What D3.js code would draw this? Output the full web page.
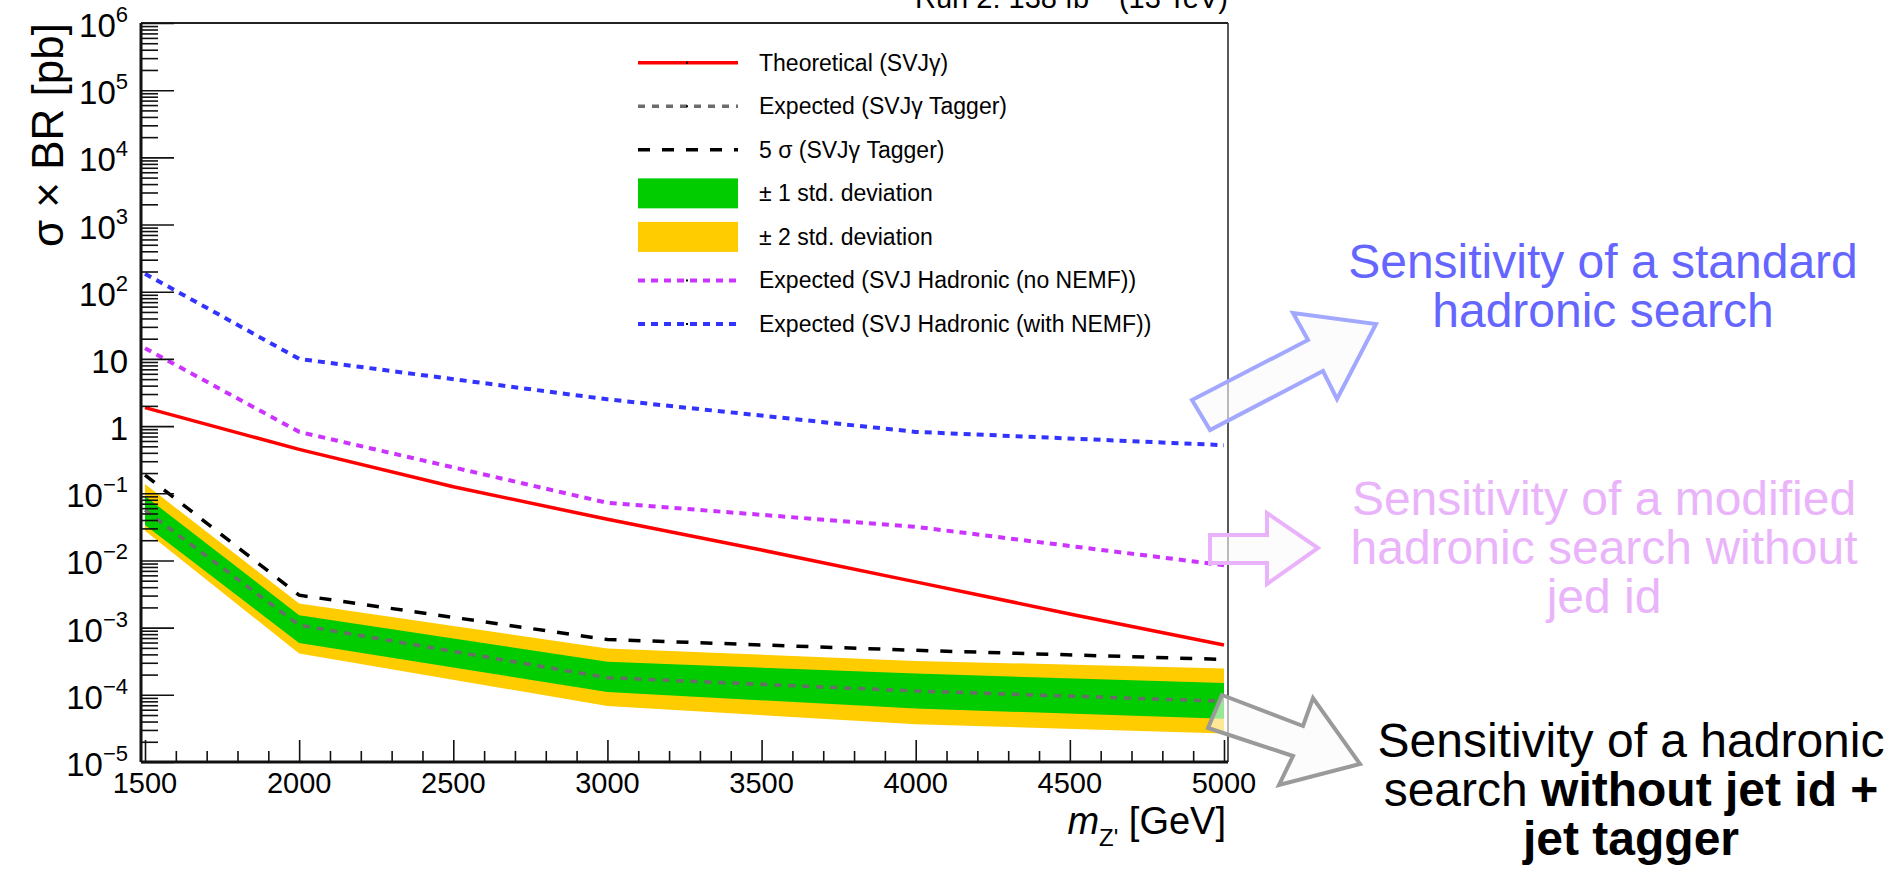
<!DOCTYPE html>
<html>
<head>
<meta charset="utf-8">
<script src="https://cdn.jsdelivr.net/npm/d3@7"></script>
<style>
  html, body { margin: 0; padding: 0; background: #fff; }
  svg { display: block; font-family: "Liberation Sans", Arial, sans-serif; }
  .leg { font-family: "Liberation Sans Narrow", "Liberation Sans", Arial, sans-serif; font-size: 23px; }
</style>
</head>
<body>
<div id="chart"></div>
<script>
// masses where the limits were computed (GeV)
const masses = [1500, 2000, 3000, 4000, 5000]
const theoryMasses = [1500, 2000, 2500, 3000, 3500, 4000, 4500, 5000]

// cross sections in pb
const theory = [1.88, 0.45, 0.125, 0.041, 0.0143, 0.0048, 0.0016, 0.00055]
const expected = [0.056, 0.00109, 0.00018, 0.000114, 0.00008]
const fiveSigma = [0.187, 0.00304, 0.000665, 0.00046, 0.000336]
const oneSigmaUp = [0.091, 0.00153, 0.00031, 0.000207, 0.00015]
const oneSigmaDown = [0.0336, 0.000593, 0.00011, 0.0000625, 0.000044]
const twoSigmaUp = [0.137, 0.00229, 0.00049, 0.00032, 0.000247]
const twoSigmaDown = [0.0277, 0.000412, 0.000068, 0.0000365, 0.0000265]
const hadNoNemf = [14.4, 0.82, 0.072, 0.0317, 0.0085]
const hadNemf = [185, 10, 2.5, 0.82, 0.52]

const xTicks = [1500, 2000, 2500, 3000, 3500, 4000, 4500, 5000]
const yExponents = [-5, -4, -3, -2, -1, 0, 1, 2, 3, 4, 5, 6]

const legendLabels = [
    "Theoretical (SVJγ)",
    "Expected (SVJγ Tagger)",
    "5 σ (SVJγ Tagger)",
    "± 1 std. deviation",
    "± 2 std. deviation",
    "Expected (SVJ Hadronic (no NEMF))",
    "Expected (SVJ Hadronic (with NEMF))"
]

const W = 1901, H = 869
const frame = {left: 141, right: 1228, top: 23, bottom: 762}

const svg = d3.select("#chart").append("svg")
    .attr("width", W)
    .attr("height", H)

const x = d3.scaleLinear().domain([1487, 5013]).range([frame.left, frame.right])
const y = d3.scaleLog().domain([1e-5, 1e6]).range([frame.bottom, frame.top])

// line styles
const styles = {
    theory:   {color: "#ff0000", dash: null,   width: 3.5},
    expected: {color: "#6b6b6b", dash: "7,7",  width: 3.5},
    five:     {color: "#000000", dash: "12,12", width: 3.5},
    noNemf:   {color: "#cc33ff", dash: "7,6",  width: 4},
    nemf:     {color: "#3333ff", dash: "7,6",  width: 4}
}

// bands
const zip = (lo, hi) => masses.map((m, i) => ({m: m, lo: lo[i], hi: hi[i]}))
const band = d3.area().x(d => x(d.m)).y0(d => y(d.lo)).y1(d => y(d.hi))

svg.append("path").datum(zip(twoSigmaDown, twoSigmaUp))
    .attr("d", band).attr("fill", "#ffcc00")
svg.append("path").datum(zip(oneSigmaDown, oneSigmaUp))
    .attr("d", band).attr("fill", "#00cc00")

const line = d3.line().x(d => x(d[0])).y(d => y(d[1]))
function drawLine(xs, ys, st) {
    svg.append("path")
        .datum(xs.map((m, i) => [m, ys[i]]))
        .attr("d", line)
        .attr("fill", "none")
        .attr("stroke", st.color)
        .attr("stroke-width", st.width)
        .attr("stroke-dasharray", st.dash)
}
drawLine(masses, expected, styles.expected)
drawLine(masses, fiveSigma, styles.five)
drawLine(theoryMasses, theory, styles.theory)
drawLine(masses, hadNoNemf, styles.noNemf)
drawLine(masses, hadNemf, styles.nemf)

// frame
svg.append("line").attr("x1", frame.left).attr("x2", frame.right).attr("y1", frame.top).attr("y2", frame.top)
    .attr("stroke", "#222").attr("stroke-width", 2)
svg.append("line").attr("x1", frame.right).attr("x2", frame.right).attr("y1", frame.top).attr("y2", frame.bottom)
    .attr("stroke", "#222").attr("stroke-width", 1.5)

// axes (ticks pointing into the frame)
const minorX = d3.range(1500, 5001, 100).filter(v => v % 500 !== 0)
const minorY = []
yExponents.slice(0, -1).forEach(e => {
    for (let k = 2; k <= 9; k++) minorY.push(k * Math.pow(10, e))
})

const xMajor = d3.axisBottom(x).tickValues(xTicks).tickSize(-22).tickSizeOuter(0).tickFormat("")
const xMinor = d3.axisBottom(x).tickValues(minorX).tickSize(-11).tickSizeOuter(0).tickFormat("")
const yMajor = d3.axisLeft(y).tickValues(yExponents.map(e => Math.pow(10, e))).tickSize(-33).tickSizeOuter(0).tickFormat("")
const yMinor = d3.axisLeft(y).tickValues(minorY).tickSize(-17).tickSizeOuter(0).tickFormat("")

;[xMajor, xMinor].forEach(a => {
    const g = svg.append("g").attr("transform", `translate(0,${frame.bottom})`).call(a)
    g.select(".domain").remove()
    g.selectAll("line").attr("stroke", "#111").attr("stroke-width", 1.6)
})
;[yMajor, yMinor].forEach(a => {
    const g = svg.append("g").attr("transform", `translate(${frame.left},0)`).call(a)
    g.select(".domain").remove()
    g.selectAll("line").attr("stroke", "#111").attr("stroke-width", 1.6)
})
svg.append("line").attr("x1", frame.left).attr("x2", frame.right).attr("y1", frame.bottom).attr("y2", frame.bottom)
    .attr("stroke", "#111").attr("stroke-width", 3)
svg.append("line").attr("x1", frame.left).attr("x2", frame.left).attr("y1", frame.top).attr("y2", frame.bottom)
    .attr("stroke", "#111").attr("stroke-width", 3)

// tick labels
svg.append("g").selectAll("text").data(xTicks).enter().append("text")
    .attr("x", d => x(d))
    .attr("y", frame.bottom + 31)
    .attr("text-anchor", "middle")
    .attr("font-size", 29)
    .text(d => d)

const yl = svg.append("g").selectAll("text").data(yExponents).enter().append("text")
    .attr("x", 128)
    .attr("y", d => y(Math.pow(10, d)) + 14)
    .attr("text-anchor", "end")
    .attr("font-size", 33)
yl.each(function(e) {
    const t = d3.select(this)
    if (e === 0) { t.text("1"); return }
    if (e === 1) { t.text("10"); return }
    t.append("tspan").text("10")
    t.append("tspan").attr("dy", -15).attr("font-size", 22)
        .text(e < 0 ? "\u2212" + (-e) : e)
})

// axis titles
svg.append("text")
    .attr("transform", `translate(63,${frame.top}) rotate(-90)`)
    .attr("text-anchor", "end")
    .attr("font-size", 44)
    .text("σ × BR [pb]")

const xt = svg.append("text")
    .attr("x", frame.right - 2)
    .attr("y", 834)
    .attr("text-anchor", "end")
    .attr("font-size", 38)
xt.append("tspan").attr("font-style", "italic").text("m")
xt.append("tspan").attr("font-size", 24).attr("dy", 12).text("Z'")
xt.append("tspan").attr("dy", -12).text(" [GeV]")

// lumi label, cut by the top edge as in the original
const lumi = svg.append("text")
    .attr("x", 1228).attr("y", 8)
    .attr("text-anchor", "end")
    .attr("font-size", 29)
lumi.append("tspan").text("Run 2: 138 fb")
lumi.append("tspan").attr("dy", -11).attr("font-size", 19).text("\u22121")
lumi.append("tspan").attr("dy", 11).text(" (13 TeV)")

// legend
const legX0 = 638, legX1 = 738, legText = 759, legY0 = 62.7, legStep = 43.55
const legStyles = [styles.theory, styles.expected, styles.five, "#00cc00", "#ffcc00", styles.noNemf, styles.nemf]
const leg = svg.append("g")
legendLabels.forEach((lab, i) => {
    const ry = legY0 + i * legStep
    const st = legStyles[i]
    if (typeof st === "string") {
        leg.append("rect").attr("x", legX0).attr("y", ry - 15).attr("width", legX1 - legX0).attr("height", 30)
            .attr("fill", st)
    } else {
        leg.append("line").attr("x1", legX0).attr("x2", legX1).attr("y1", ry).attr("y2", ry)
            .attr("stroke", st.color).attr("stroke-width", st.width).attr("stroke-dasharray", st.dash)
        leg.append("rect").attr("x", 686).attr("y", ry - 1).attr("width", 2).attr("height", 2).attr("fill", "#000")
    }
    leg.append("text").attr("class", "leg").attr("x", legText).attr("y", ry + 8).text(lab)
})

// annotation arrows + text
const arrows = [
    {pts: [[1210,430],[1192,400],[1308,340],[1293,313],[1376,324],[1337,399],[1323,371]], stroke: "#a3a8ff"},
    {pts: [[1210,535],[1267,535],[1267,513],[1318,548],[1267,584],[1267,563],[1210,563]], stroke: "#e9b2fa"},
    {pts: [[1222,695],[1303,726],[1313,698],[1360,764],[1279,785],[1293,756],[1208,728]], stroke: "#9a9a9a"}
]
arrows.forEach(a => {
    svg.append("polygon")
        .attr("points", a.pts.map(p => p.join(",")).join(" "))
        .attr("fill", "#fafafa").attr("fill-opacity", 0.6)
        .attr("stroke", a.stroke).attr("stroke-width", 4)
        .attr("stroke-linejoin", "miter")
})

function note(cx, y0, lines, color) {
    lines.forEach((parts, i) => {
        const t = svg.append("text").attr("x", cx).attr("y", y0 + i * 49)
            .attr("text-anchor", "middle").attr("font-size", 48).attr("fill", color)
        parts.forEach(p => t.append("tspan").attr("font-weight", p[1] ? "bold" : "normal").text(p[0]))
    })
}
note(1603, 278, [[["Sensitivity of a standard"]], [["hadronic search"]]], "#6565ff")
note(1604, 515, [[["Sensitivity of a modified"]], [["hadronic search without"]], [["jed id"]]], "#eab4fb")
note(1631, 757, [[["Sensitivity of a hadronic"]], [["search "], ["without jet id +", true]], [["jet tagger", true]]], "#000")
</script>
</body>
</html>
